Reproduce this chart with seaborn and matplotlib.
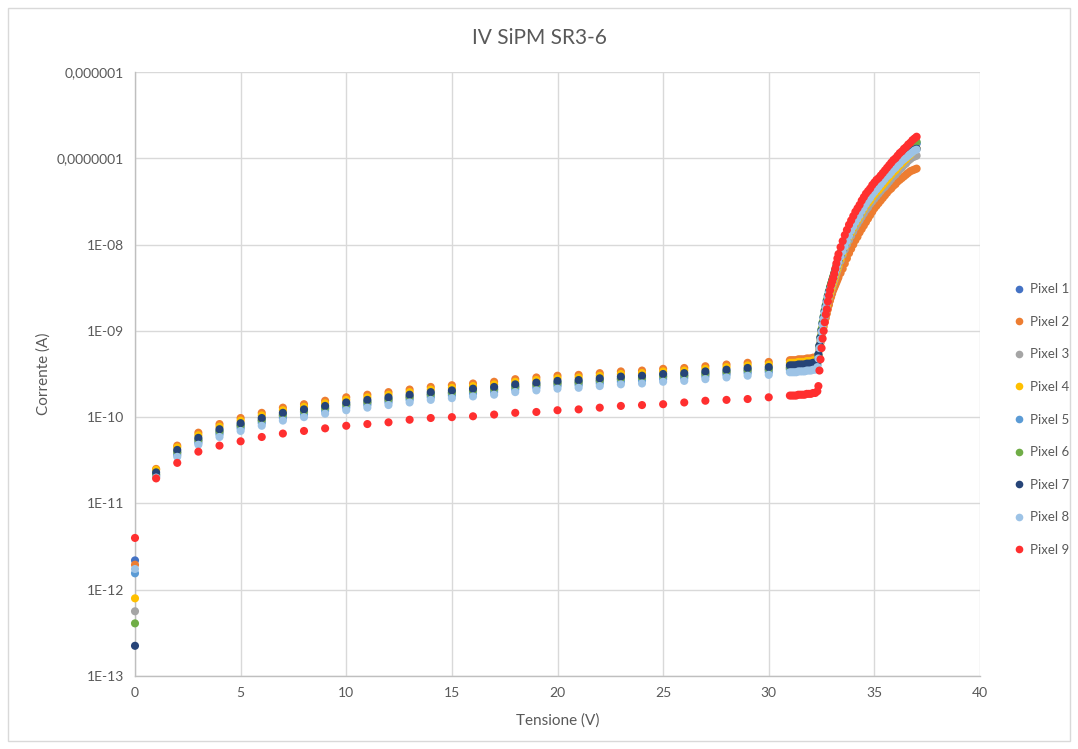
import numpy as np
import pandas as pd
import matplotlib
matplotlib.use("Agg")
import matplotlib.pyplot as plt
from matplotlib.lines import Line2D
from matplotlib.patches import Rectangle
import seaborn as sns

TITLE = "IV SiPM SR3-6"
X_LABEL = "Tensione (V)"
Y_LABEL = "Corrente (A)"
SERIES = ["Pixel 1", "Pixel 2", "Pixel 3", "Pixel 4", "Pixel 5",
          "Pixel 6", "Pixel 7", "Pixel 8", "Pixel 9"]
COLORS = ["#4472C4", "#ED7D31", "#A5A5A5", "#FFC000", "#5B9BD5",
          "#70AD47", "#264478", "#9DC3E6", "#FF2F2F"]
X_TICKS = [0, 5, 10, 15, 20, 25, 30, 35, 40]
Y_TICKS = [1e-13, 1e-12, 1e-11, 1e-10, 1e-9, 1e-8, 1e-7, 1e-6]
Y_TICK_LABELS = ["1E-13", "1E-12", "1E-11", "1E-10", "1E-09", "1E-08",
                 "0,0000001", "0,000001"]

# Bias voltages (V)
V_LOW = [0, 1, 2, 3, 4, 5, 6, 7, 8, 9, 10, 11, 12, 13, 14, 15, 16, 17, 18, 19,
         20, 21, 22, 23, 24, 25, 26, 27, 28, 29, 30]
V_DENSE = [31.0, 31.1, 31.2, 31.3, 31.4, 31.5, 31.6, 31.7, 31.8, 31.9, 32.0, 32.1, 32.2, 32.3,
           32.35, 32.4, 32.45, 32.5, 32.55, 32.6, 32.65, 32.7, 32.75, 32.8, 32.85, 32.9,
           32.95, 33.0, 33.05, 33.1, 33.15, 33.2, 33.25,
           33.3, 33.4, 33.5, 33.6, 33.7, 33.8, 33.9, 34.0, 34.1, 34.2, 34.3, 34.4, 34.5,
           34.6, 34.7, 34.8, 34.9, 35.0, 35.1, 35.2, 35.3, 35.4, 35.5, 35.6, 35.7, 35.8,
           35.9, 36.0, 36.1, 36.2, 36.3, 36.4, 36.5, 36.6, 36.7, 36.8, 36.9, 37.0]

# log10 of the current (A)
P1_LOW = [-11.66, -10.67, -10.41, -10.27, -10.17, -10.10, -10.04, -9.98, -9.94, -9.90, -9.86,
          -9.83, -9.80, -9.77, -9.74, -9.72, -9.70, -9.68, -9.65, -9.63, -9.61, -9.60, -9.58,
          -9.56, -9.55, -9.53, -9.52, -9.50, -9.48, -9.46, -9.45]
P2_LOW = [-11.71, -10.60, -10.33, -10.18, -10.08, -10.01, -9.95, -9.89, -9.85, -9.81, -9.77,
          -9.74, -9.71, -9.68, -9.65, -9.63, -9.61, -9.59, -9.56, -9.54, -9.52, -9.51, -9.49,
          -9.47, -9.46, -9.44, -9.43, -9.41, -9.39, -9.37, -9.36]
P3_LOW = [-12.25, -10.68, -10.42, -10.28, -10.18, -10.11, -10.05, -9.99, -9.95, -9.91, -9.87,
          -9.84, -9.81, -9.78, -9.75, -9.73, -9.71, -9.69, -9.66, -9.64, -9.62, -9.61, -9.59,
          -9.57, -9.56, -9.54, -9.53, -9.51, -9.49, -9.47, -9.46]
P4_LOW = [-12.10, -10.61, -10.35, -10.21, -10.11, -10.04, -9.98, -9.92, -9.88, -9.84, -9.80,
          -9.77, -9.74, -9.71, -9.68, -9.66, -9.64, -9.62, -9.59, -9.57, -9.55, -9.54, -9.52,
          -9.50, -9.49, -9.47, -9.46, -9.44, -9.42, -9.40, -9.39]
P5_LOW = [-11.81, -10.69, -10.44, -10.30, -10.20, -10.13, -10.07, -10.01, -9.97, -9.93, -9.89,
          -9.86, -9.83, -9.80, -9.77, -9.75, -9.73, -9.71, -9.68, -9.66, -9.64, -9.63, -9.61,
          -9.59, -9.58, -9.56, -9.55, -9.53, -9.51, -9.49, -9.48]
P6_LOW = [-12.39, -10.66, -10.40, -10.26, -10.16, -10.09, -10.03, -9.97, -9.93, -9.89, -9.85,
          -9.82, -9.79, -9.76, -9.73, -9.71, -9.69, -9.67, -9.64, -9.62, -9.60, -9.59, -9.57,
          -9.55, -9.54, -9.52, -9.51, -9.49, -9.47, -9.45, -9.44]
P7_LOW = [-12.65, -10.64, -10.38, -10.24, -10.14, -10.07, -10.01, -9.95, -9.91, -9.87, -9.83,
          -9.80, -9.77, -9.74, -9.71, -9.69, -9.67, -9.65, -9.62, -9.60, -9.58, -9.57, -9.55,
          -9.53, -9.52, -9.50, -9.49, -9.47, -9.45, -9.43, -9.42]
P8_LOW = [-11.76, -10.70, -10.46, -10.32, -10.23, -10.16, -10.10, -10.04, -10.00, -9.96, -9.92,
          -9.89, -9.86, -9.83, -9.80, -9.78, -9.76, -9.74, -9.71, -9.69, -9.67, -9.66, -9.64,
          -9.62, -9.61, -9.59, -9.58, -9.56, -9.54, -9.52, -9.51]
P9_LOW = [-11.40, -10.71, -10.53, -10.40, -10.33, -10.28, -10.23, -10.19, -10.16, -10.13, -10.10,
          -10.08, -10.06, -10.03, -10.01, -10.00, -9.99, -9.97, -9.95, -9.94, -9.92, -9.91, -9.89,
          -9.87, -9.86, -9.85, -9.83, -9.81, -9.80, -9.79, -9.77]

P1_DENSE = [-9.43, -9.43, -9.43, -9.43, -9.42, -9.42, -9.42, -9.42, -9.41, -9.41, -9.41, -9.40, -9.40, -9.37,
            -9.29, -9.18, -9.08, -8.99, -8.91, -8.84, -8.77, -8.71, -8.65, -8.60, -8.55, -8.50, -8.46,
            -8.42, -8.38, -8.34, -8.30, -8.26, -8.22,
            -8.19, -8.11, -8.04, -7.97, -7.91, -7.85, -7.80, -7.75, -7.70, -7.66, -7.62, -7.57, -7.53,
            -7.49, -7.46, -7.43, -7.39, -7.36, -7.33, -7.31, -7.28, -7.25, -7.22, -7.19, -7.16, -7.13,
            -7.10, -7.08, -7.05, -7.02, -7.00, -6.97, -6.95, -6.92, -6.90, -6.87, -6.85, -6.83]
P2_DENSE = [-9.34, -9.34, -9.34, -9.34, -9.33, -9.33, -9.33, -9.33, -9.32, -9.32, -9.32, -9.31, -9.31, -9.30,
            -9.30, -9.22, -9.14, -9.07, -9.01, -8.95, -8.90, -8.85, -8.80, -8.75, -8.70, -8.65, -8.61,
            -8.57, -8.53, -8.50, -8.47, -8.44, -8.41,
            -8.38, -8.33, -8.28, -8.22, -8.16, -8.10, -8.05, -8.00, -7.95, -7.91, -7.86, -7.82, -7.78,
            -7.74, -7.70, -7.66, -7.62, -7.58, -7.55, -7.52, -7.49, -7.46, -7.43, -7.40, -7.37, -7.35,
            -7.32, -7.30, -7.27, -7.25, -7.23, -7.21, -7.19, -7.17, -7.15, -7.14, -7.13, -7.12]
P3_DENSE = [-9.44, -9.44, -9.44, -9.44, -9.43, -9.43, -9.43, -9.43, -9.42, -9.42, -9.42, -9.41, -9.41, -9.39,
            -9.31, -9.21, -9.12, -9.04, -8.97, -8.90, -8.84, -8.78, -8.72, -8.67, -8.62, -8.58, -8.54,
            -8.50, -8.46, -8.42, -8.38, -8.34, -8.30,
            -8.26, -8.19, -8.12, -8.06, -8.00, -7.95, -7.90, -7.85, -7.80, -7.76, -7.72, -7.68, -7.64,
            -7.60, -7.57, -7.53, -7.50, -7.47, -7.44, -7.41, -7.38, -7.35, -7.33, -7.30, -7.27, -7.24,
            -7.21, -7.19, -7.16, -7.13, -7.11, -7.08, -7.06, -7.03, -7.01, -6.99, -6.98, -6.97]
P4_DENSE = [-9.37, -9.37, -9.37, -9.37, -9.36, -9.36, -9.36, -9.36, -9.35, -9.35, -9.35, -9.34, -9.34, -9.33,
            -9.28, -9.19, -9.10, -9.02, -8.95, -8.88, -8.82, -8.76, -8.70, -8.65, -8.60, -8.56, -8.52,
            -8.48, -8.44, -8.40, -8.36, -8.32, -8.28,
            -8.24, -8.17, -8.10, -8.03, -7.97, -7.91, -7.86, -7.81, -7.76, -7.72, -7.68, -7.63, -7.59,
            -7.55, -7.52, -7.49, -7.45, -7.42, -7.39, -7.37, -7.34, -7.31, -7.28, -7.25, -7.22, -7.19,
            -7.16, -7.14, -7.11, -7.08, -7.06, -7.03, -7.01, -6.98, -6.96, -6.93, -6.91, -6.89]
P5_DENSE = [-9.45, -9.45, -9.45, -9.45, -9.44, -9.44, -9.44, -9.44, -9.43, -9.43, -9.43, -9.42, -9.42, -9.40,
            -9.30, -9.18, -9.08, -8.99, -8.91, -8.84, -8.77, -8.71, -8.65, -8.59, -8.54, -8.50, -8.46,
            -8.42, -8.38, -8.34, -8.30, -8.26, -8.22,
            -8.18, -8.10, -8.03, -7.96, -7.90, -7.84, -7.79, -7.74, -7.69, -7.65, -7.61, -7.56, -7.52,
            -7.48, -7.45, -7.42, -7.38, -7.35, -7.32, -7.30, -7.27, -7.24, -7.21, -7.18, -7.15, -7.12,
            -7.09, -7.07, -7.04, -7.01, -6.99, -6.96, -6.94, -6.91, -6.89, -6.86, -6.84, -6.82]
P6_DENSE = [-9.42, -9.42, -9.42, -9.42, -9.41, -9.41, -9.41, -9.41, -9.40, -9.40, -9.40, -9.39, -9.39, -9.36,
            -9.28, -9.17, -9.07, -8.98, -8.90, -8.83, -8.76, -8.70, -8.64, -8.59, -8.54, -8.49, -8.45,
            -8.41, -8.37, -8.33, -8.29, -8.25, -8.21,
            -8.17, -8.09, -8.02, -7.95, -7.89, -7.83, -7.78, -7.73, -7.68, -7.64, -7.60, -7.55, -7.51,
            -7.47, -7.44, -7.41, -7.37, -7.34, -7.31, -7.29, -7.26, -7.23, -7.20, -7.17, -7.14, -7.11,
            -7.08, -7.06, -7.03, -7.00, -6.98, -6.95, -6.93, -6.90, -6.88, -6.85, -6.83, -6.81]
P7_DENSE = [-9.40, -9.40, -9.40, -9.40, -9.39, -9.39, -9.39, -9.39, -9.38, -9.38, -9.38, -9.37, -9.37, -9.35,
            -9.27, -9.17, -9.08, -9.00, -8.92, -8.85, -8.78, -8.72, -8.66, -8.60, -8.55, -8.51, -8.47,
            -8.43, -8.39, -8.35, -8.31, -8.27, -8.23,
            -8.19, -8.13, -8.07, -8.01, -7.95, -7.89, -7.83, -7.78, -7.73, -7.69, -7.65, -7.60, -7.56,
            -7.52, -7.48, -7.45, -7.41, -7.38, -7.35, -7.32, -7.29, -7.26, -7.23, -7.20, -7.18, -7.15,
            -7.12, -7.10, -7.07, -7.05, -7.02, -7.00, -6.98, -6.96, -6.94, -6.92, -6.90, -6.89]
P8_DENSE = [-9.48, -9.48, -9.48, -9.48, -9.47, -9.47, -9.47, -9.47, -9.46, -9.46, -9.46, -9.45, -9.45, -9.42,
            -9.32, -9.20, -9.10, -9.01, -8.93, -8.86, -8.79, -8.73, -8.67, -8.61, -8.56, -8.52, -8.48,
            -8.44, -8.40, -8.36, -8.32, -8.28, -8.24,
            -8.20, -8.14, -8.08, -8.02, -7.96, -7.90, -7.84, -7.79, -7.74, -7.70, -7.66, -7.61, -7.57,
            -7.53, -7.49, -7.46, -7.42, -7.39, -7.36, -7.33, -7.30, -7.27, -7.24, -7.21, -7.19, -7.16,
            -7.13, -7.11, -7.08, -7.06, -7.03, -7.01, -6.99, -6.97, -6.95, -6.93, -6.91, -6.90]
P9_DENSE = [-9.75, -9.75, -9.75, -9.75, -9.74, -9.74, -9.74, -9.74, -9.73, -9.73, -9.73, -9.72, -9.72, -9.70,
            -9.64, -9.46, -9.33, -9.20, -9.09, -9.00, -8.90, -8.81, -8.75, -8.66, -8.59, -8.53, -8.47,
            -8.43, -8.39, -8.34, -8.28, -8.22, -8.16,
            -8.11, -8.03, -7.96, -7.89, -7.83, -7.77, -7.72, -7.67, -7.62, -7.58, -7.54, -7.49, -7.45,
            -7.41, -7.38, -7.35, -7.31, -7.28, -7.25, -7.23, -7.20, -7.17, -7.14, -7.11, -7.08, -7.05,
            -7.02, -7.00, -6.97, -6.94, -6.92, -6.89, -6.87, -6.84, -6.82, -6.79, -6.77, -6.75]

LOW = [P1_LOW, P2_LOW, P3_LOW, P4_LOW, P5_LOW, P6_LOW, P7_LOW, P8_LOW, P9_LOW]
DENSE = [P1_DENSE, P2_DENSE, P3_DENSE, P4_DENSE, P5_DENSE, P6_DENSE, P7_DENSE, P8_DENSE, P9_DENSE]

volts = V_LOW + V_DENSE
frames = []
for name, lo, de in zip(SERIES, LOW, DENSE):
    vals = lo + de
    if len(vals) != len(volts):
        print("length mismatch", name, len(lo), len(de), len(V_LOW), len(V_DENSE))
        vals = (vals + [np.nan] * len(volts))[:len(volts)]
    frames.append(pd.DataFrame({"V": volts, "I": 10.0 ** np.array(vals), "Pixel": name}))
df = pd.concat(frames, ignore_index=True)

sns.set_theme(style="white")
plt.rcParams["font.family"] = ["Lato", "DejaVu Sans"]
TXT = "#595959"

fig = plt.figure(figsize=(10.78, 7.49), dpi=100)
ax = fig.add_axes([135 / 1078, 1 - 676 / 749, 845 / 1078, 604 / 749])

sns.scatterplot(data=df, x="V", y="I", hue="Pixel", hue_order=SERIES,
                palette=COLORS, s=34, linewidth=0, legend=False, ax=ax,
                zorder=3, clip_on=False)

ax.set_yscale("log")
ax.set_xlim(0, 40)
ax.set_ylim(1e-13, 1e-6)
ax.set_xticks(X_TICKS, labels=[str(t) for t in X_TICKS])
ax.set_yticks(Y_TICKS, labels=Y_TICK_LABELS)
ax.minorticks_off()
ax.tick_params(axis="both", length=0, labelsize=10, colors=TXT, pad=8)
ax.grid(True, color="#D9D9D9", linewidth=1)
ax.set_axisbelow(True)
for side in ["top", "right"]:
    ax.spines[side].set_visible(False)
for side in ["left", "bottom"]:
    ax.spines[side].set_color("#BFBFBF")
    ax.spines[side].set_linewidth(1)

ax.set_xlabel(X_LABEL, fontsize=11, color=TXT, labelpad=10)
ax.set_ylabel(Y_LABEL, fontsize=11, color=TXT, labelpad=4)
fig.text(0.5, 1 - 38 / 749, TITLE, ha="center", va="center", fontsize=15, color=TXT)

handles = [Line2D([], [], marker="o", linestyle="none", markersize=5.5,
                  markerfacecolor=c, markeredgewidth=0) for c in COLORS]
fig.legend(handles, SERIES, loc="upper left", bbox_to_anchor=(1008 / 1078, 1 - 278 / 749),
           frameon=False, fontsize=9.5, labelcolor=TXT, handlelength=0.8,
           handletextpad=0.5, labelspacing=1.56, borderaxespad=0)

fig.patches.append(Rectangle((8 / 1078, 8 / 749), 1062 / 1078, 733 / 749,
                             transform=fig.transFigure, fill=False,
                             edgecolor="#D9D9D9", linewidth=1))

fig.savefig("out.png", dpi=100)
